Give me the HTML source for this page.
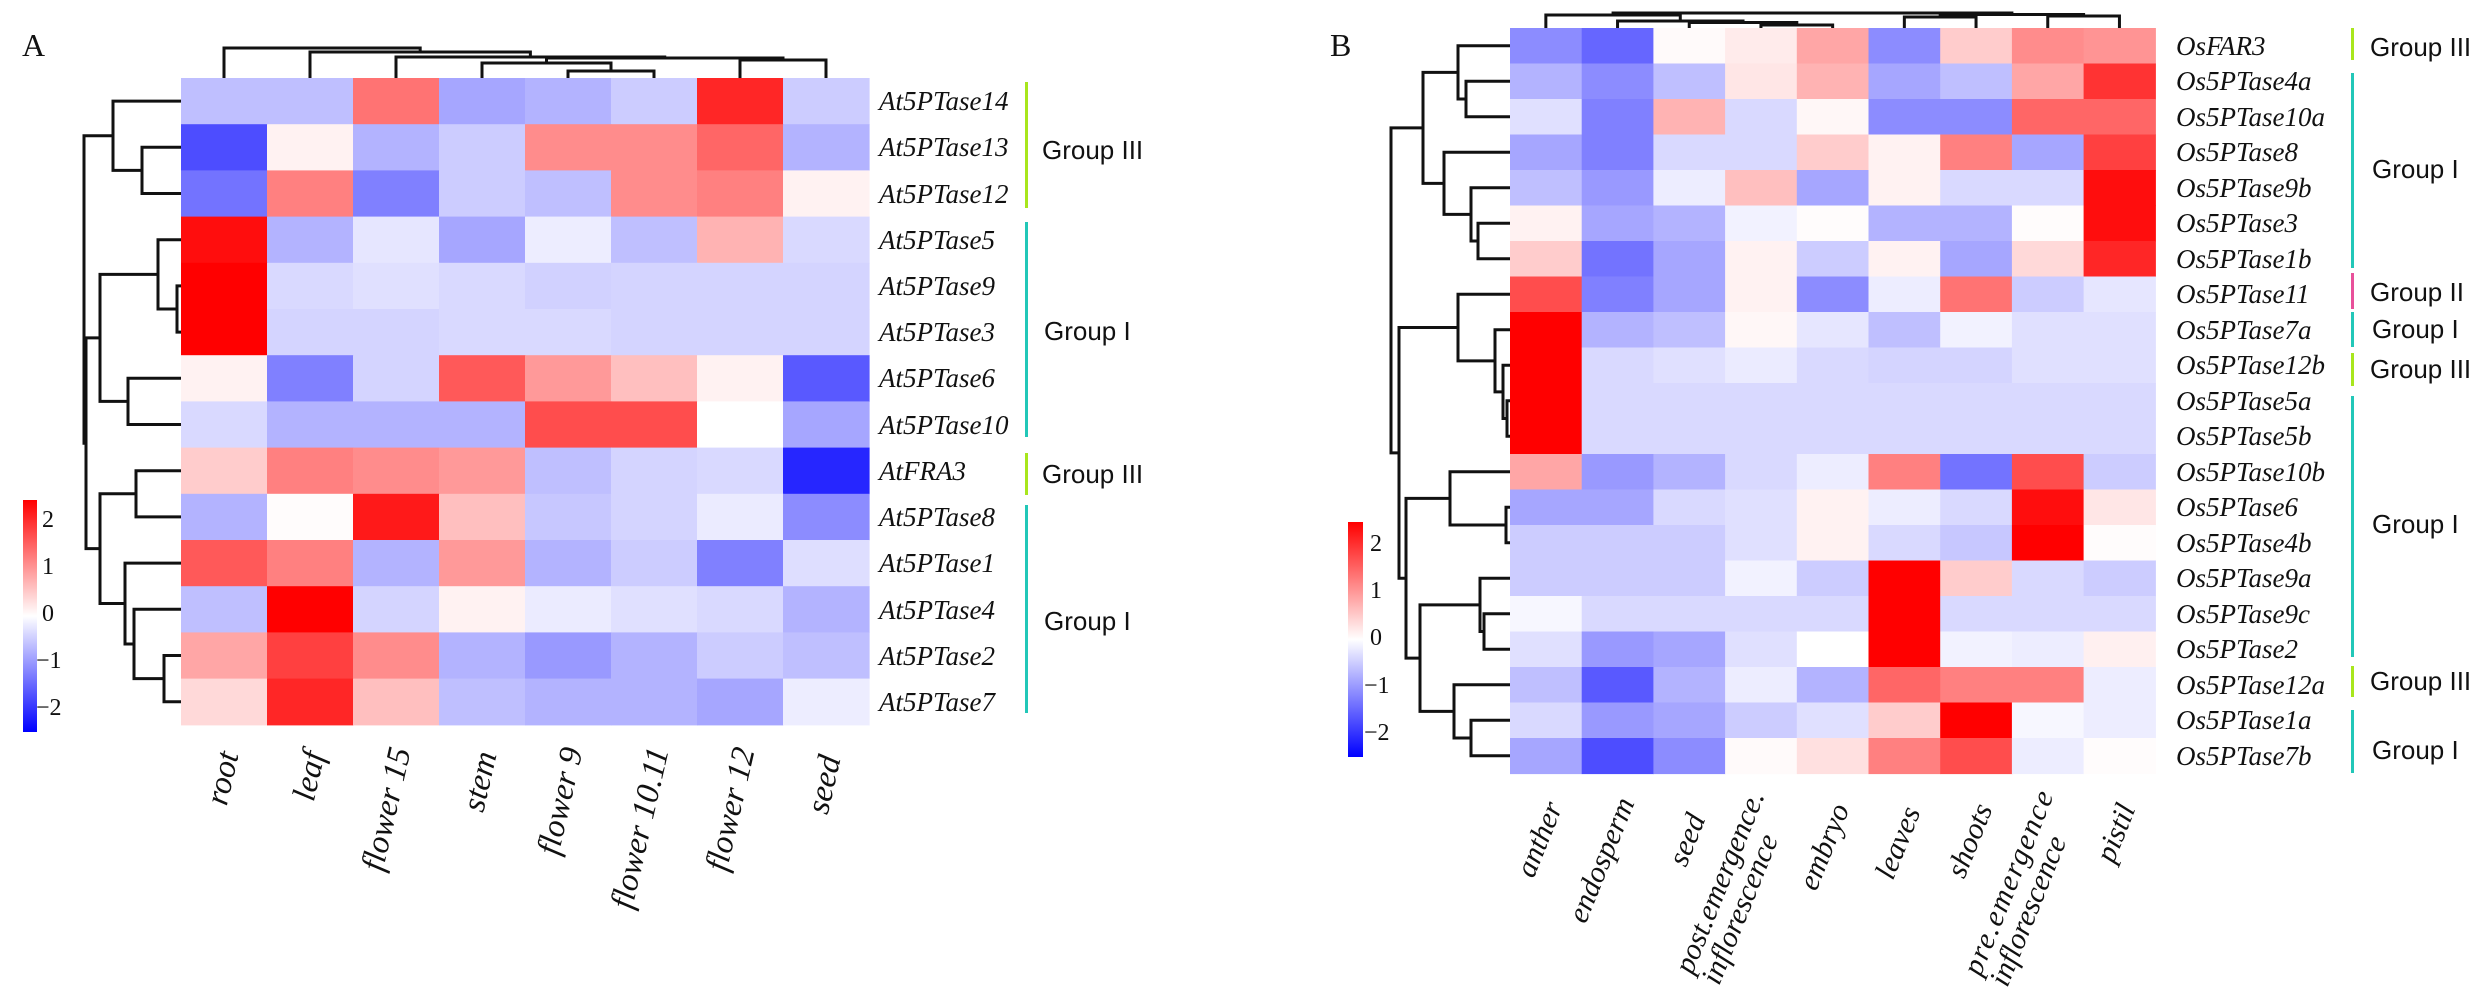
<!DOCTYPE html>
<html><head><meta charset="utf-8"><style>
html,body{margin:0;padding:0;background:#fff;}
svg{display:block;}
.rl{font-family:"Liberation Serif",serif;font-style:italic;font-size:27px;fill:#111;}
.xa{font-family:"Liberation Serif",serif;font-style:italic;font-size:33px;fill:#111;}
.xb{font-family:"Liberation Serif",serif;font-style:italic;font-size:30px;fill:#111;}
.gl{font-family:"Liberation Sans",sans-serif;font-size:26px;fill:#111;}
.tk{font-family:"Liberation Serif",serif;font-size:24px;fill:#111;}
.pl{font-family:"Liberation Serif",serif;font-size:32px;fill:#111;}
</style></head><body>
<svg id="s" width="2492" height="988" xmlns="http://www.w3.org/2000/svg">
<defs>
<linearGradient id="cb" x1="0" y1="0" x2="0" y2="1">
<stop offset="0" stop-color="#ff0000"/><stop offset="0.5" stop-color="#ffffff"/><stop offset="1" stop-color="#0000ff"/>
</linearGradient>
</defs>
<g id="cells"></g>
<g id="dend" fill="none" stroke="#111" stroke-width="3"></g>

<text class="pl" x="22" y="56">A</text>
<text class="pl" x="1330" y="56">B</text>

<rect x="23" y="500" width="14" height="232" fill="url(#cb)"/>
<text class="tk" x="42" y="527">2</text>
<text class="tk" x="42" y="574">1</text>
<text class="tk" x="42" y="621">0</text>
<text class="tk" x="36" y="668">−1</text>
<text class="tk" x="36" y="715">−2</text>
<rect x="1348" y="522" width="15" height="235" fill="url(#cb)"/>
<text class="tk" x="1370" y="551">2</text>
<text class="tk" x="1370" y="598">1</text>
<text class="tk" x="1370" y="645">0</text>
<text class="tk" x="1364" y="693">−1</text>
<text class="tk" x="1364" y="740">−2</text>

<g class="rl" dominant-baseline="central">
<text x="879" y="101">At5PTase14</text>
<text x="879" y="147">At5PTase13</text>
<text x="879" y="194">At5PTase12</text>
<text x="879" y="240">At5PTase5</text>
<text x="879" y="286">At5PTase9</text>
<text x="879" y="332">At5PTase3</text>
<text x="879" y="378">At5PTase6</text>
<text x="879" y="425">At5PTase10</text>
<text x="879" y="471">AtFRA3</text>
<text x="879" y="517">At5PTase8</text>
<text x="879" y="563">At5PTase1</text>
<text x="879" y="610">At5PTase4</text>
<text x="879" y="656">At5PTase2</text>
<text x="879" y="702">At5PTase7</text>
</g>
<rect x="1025" y="82" width="3" height="126" fill="#a8e61d"/>
<rect x="1025" y="222" width="3" height="215" fill="#22c7b8"/>
<rect x="1025" y="453" width="3" height="42" fill="#a8e61d"/>
<rect x="1025" y="505" width="3" height="208" fill="#22c7b8"/>
<g class="gl" dominant-baseline="central">
<text x="1042" y="150">Group III</text>
<text x="1044" y="331">Group I</text>
<text x="1042" y="474">Group III</text>
<text x="1044" y="621">Group I</text>
</g>
<g class="xa" text-anchor="end" dominant-baseline="central">
<text transform="translate(229,752) rotate(-77)">root</text>
<text transform="translate(315,752) rotate(-77)">leaf</text>
<text transform="translate(401,748) rotate(-77)">flower 15</text>
<text transform="translate(487,752) rotate(-77)">stem</text>
<text transform="translate(573,748) rotate(-77)">flower 9</text>
<text transform="translate(659,748) rotate(-77)">flower 10.11</text>
<text transform="translate(745,748) rotate(-77)">flower 12</text>
<text transform="translate(831,756) rotate(-77)">seed</text>
</g>

<g class="rl" dominant-baseline="central">
<text x="2176" y="46">OsFAR3</text>
<text x="2176" y="81">Os5PTase4a</text>
<text x="2176" y="117">Os5PTase10a</text>
<text x="2176" y="152">Os5PTase8</text>
<text x="2176" y="188">Os5PTase9b</text>
<text x="2176" y="223">Os5PTase3</text>
<text x="2176" y="259">Os5PTase1b</text>
<text x="2176" y="294">Os5PTase11</text>
<text x="2176" y="330">Os5PTase7a</text>
<text x="2176" y="365">Os5PTase12b</text>
<text x="2176" y="401">Os5PTase5a</text>
<text x="2176" y="436">Os5PTase5b</text>
<text x="2176" y="472">Os5PTase10b</text>
<text x="2176" y="507">Os5PTase6</text>
<text x="2176" y="543">Os5PTase4b</text>
<text x="2176" y="578">Os5PTase9a</text>
<text x="2176" y="614">Os5PTase9c</text>
<text x="2176" y="649">Os5PTase2</text>
<text x="2176" y="685">Os5PTase12a</text>
<text x="2176" y="720">Os5PTase1a</text>
<text x="2176" y="756">Os5PTase7b</text>
</g>
<rect x="2351" y="28" width="3" height="32" fill="#a8e61d"/>
<rect x="2351" y="73" width="3" height="195" fill="#22c7b8"/>
<rect x="2351" y="273" width="3" height="36" fill="#e8509a"/>
<rect x="2351" y="312" width="3" height="35" fill="#22c7b8"/>
<rect x="2351" y="353" width="3" height="33" fill="#a8e61d"/>
<rect x="2351" y="396" width="3" height="261" fill="#22c7b8"/>
<rect x="2351" y="666" width="3" height="31" fill="#a8e61d"/>
<rect x="2351" y="710" width="3" height="63" fill="#22c7b8"/>
<g class="gl" dominant-baseline="central">
<text x="2370" y="47">Group III</text>
<text x="2372" y="169">Group I</text>
<text x="2370" y="292">Group II</text>
<text x="2372" y="329">Group I</text>
<text x="2370" y="369">Group III</text>
<text x="2372" y="524">Group I</text>
<text x="2370" y="681">Group III</text>
<text x="2372" y="750">Group I</text>
</g>
<g class="xb" text-anchor="end" dominant-baseline="central">
<text transform="translate(1554,803) rotate(-68)">anther</text>
<text transform="translate(1626,799) rotate(-68)">endosperm</text>
<text transform="translate(1697,815) rotate(-68)">seed</text>
<text transform="translate(1841,805) rotate(-68)">embryo</text>
<text transform="translate(1912,808) rotate(-68)">leaves</text>
<text transform="translate(1984,805) rotate(-68)">shoots</text>
<text transform="translate(2127,805) rotate(-68)">pistil</text>
</g>
<g class="xb" dominant-baseline="central">
<g transform="translate(1756,792) rotate(-68)"><text x="-194" y="0" textLength="194">post.emergence.</text><text x="-194" y="29">inflorescence</text></g>
<g transform="translate(2045,792) rotate(-68)"><text x="-196" y="0" textLength="196">pre.emergence</text><text x="-196" y="29">inflorescence</text></g>
</g>
</svg>
<script>
(function(){
var NS="http://www.w3.org/2000/svg";
function col(v){var t=Math.min(1,Math.abs(v));var c=Math.round(255*(1-t));return v>=0?"rgb(255,"+c+","+c+")":"rgb("+c+","+c+",255)";}
var cells=document.getElementById("cells");
function heat(data,x0,y0,cw,rh){for(var i=0;i<data.length;i++)for(var j=0;j<data[i].length;j++){var r=document.createElementNS(NS,"rect");r.setAttribute("x",(x0+j*cw).toFixed(2));r.setAttribute("y",(y0+i*rh).toFixed(2));r.setAttribute("width",(cw+0.6).toFixed(2));r.setAttribute("height",(rh+0.6).toFixed(2));r.setAttribute("fill",col(data[i][j]));cells.appendChild(r);}}
var A=[[-0.25,-0.25,0.55,-0.35,-0.3,-0.2,0.85,-0.2],[-0.7,0.05,-0.3,-0.2,0.45,0.45,0.6,-0.3],[-0.55,0.5,-0.5,-0.2,-0.25,0.45,0.5,0.05],[0.95,-0.3,-0.1,-0.35,-0.07,-0.25,0.3,-0.15],[1,-0.15,-0.12,-0.15,-0.18,-0.17,-0.17,-0.17],[1,-0.17,-0.17,-0.15,-0.15,-0.17,-0.17,-0.17],[0.05,-0.5,-0.17,0.65,0.4,0.25,0.05,-0.65],[-0.15,-0.3,-0.3,-0.3,0.7,0.7,0,-0.35],[0.2,0.5,0.45,0.4,-0.25,-0.17,-0.15,-0.85],[-0.3,0.01,0.9,0.25,-0.22,-0.17,-0.08,-0.45],[0.65,0.5,-0.3,0.4,-0.3,-0.2,-0.5,-0.13],[-0.25,1,-0.17,0.05,-0.08,-0.12,-0.15,-0.3],[0.35,0.75,0.45,-0.3,-0.4,-0.3,-0.2,-0.25],[0.15,0.85,0.25,-0.25,-0.3,-0.3,-0.35,-0.07]];
var B=[[-0.45,-0.6,0.02,0.08,0.35,-0.45,0.2,0.45,0.42],[-0.3,-0.45,-0.25,0.1,0.3,-0.35,-0.25,0.35,0.8],[-0.12,-0.5,0.3,-0.15,0.03,-0.45,-0.45,0.6,0.6],[-0.35,-0.5,-0.15,-0.15,0.2,0.05,0.5,-0.35,0.75],[-0.25,-0.4,-0.07,0.25,-0.35,0.05,-0.15,-0.15,0.95],[0.05,-0.35,-0.3,-0.05,0.01,-0.3,-0.3,0.01,0.95],[0.2,-0.55,-0.35,0.05,-0.2,0.05,-0.35,0.15,0.85],[0.7,-0.5,-0.35,0.05,-0.45,-0.07,0.55,-0.2,-0.1],[1,-0.3,-0.25,0.03,-0.1,-0.25,-0.05,-0.12,-0.12],[1,-0.15,-0.12,-0.08,-0.15,-0.17,-0.17,-0.12,-0.12],[1,-0.15,-0.15,-0.15,-0.15,-0.15,-0.15,-0.15,-0.15],[1,-0.15,-0.15,-0.15,-0.15,-0.15,-0.15,-0.15,-0.15],[0.35,-0.4,-0.3,-0.15,-0.07,0.5,-0.55,0.7,-0.2],[-0.35,-0.35,-0.15,-0.12,0.05,-0.07,-0.15,0.95,0.1],[-0.2,-0.2,-0.2,-0.12,0.05,-0.15,-0.22,1,0.01],[-0.2,-0.2,-0.2,-0.05,-0.2,1,0.2,-0.15,-0.2],[-0.03,-0.15,-0.15,-0.15,-0.15,1,-0.15,-0.15,-0.15],[-0.12,-0.4,-0.35,-0.12,0,1,-0.05,-0.07,0.06],[-0.25,-0.65,-0.3,-0.07,-0.3,0.6,0.5,0.5,-0.07],[-0.15,-0.4,-0.35,-0.2,-0.12,0.2,1,-0.03,-0.07],[-0.35,-0.7,-0.45,0.02,0.12,0.5,0.7,-0.07,0.01]];
heat(A,181,78,86,46.2);
heat(B,1510,28,71.7,35.5);
var dend=document.getElementById("dend");
function tree(n,pos,edge,merges,horiz){
 var P=pos.slice(),H=[];for(var i=0;i<n;i++)H.push(edge);
 var d="";
 merges.forEach(function(m){var a=m[0],b=m[1],h=m[2];
  if(horiz){d+="M"+H[a]+","+P[a]+"H"+h+"V"+P[b]+"H"+H[b];}
  else{d+="M"+P[a]+","+H[a]+"V"+h+"H"+P[b]+"V"+H[b];}
  P.push((P[a]+P[b])/2);H.push(h);});
 var p=document.createElementNS(NS,"path");p.setAttribute("d",d);dend.appendChild(p);}
var ay=[],ax=[],by=[],bx=[];
for(var i=0;i<14;i++)ay.push(78+46.2*(i+0.5));
for(var i=0;i<8;i++)ax.push(181+86*(i+0.5));
for(var i=0;i<21;i++)by.push(28+35.5*(i+0.5));
for(var i=0;i<9;i++)bx.push(1510+71.7*(i+0.5));
tree(14,ay,181,[[1,2,142],[0,14,113],[4,5,177],[3,16,158],[6,7,128],[17,18,100],[8,9,136],[12,13,164],[11,21,134],[10,22,125],[20,23,100],[19,24,86],[15,25,84]],true);
tree(8,ax,78,[[4,5,71],[3,8,63],[6,7,60],[9,10,58],[2,11,57],[1,12,52],[0,13,48]],false);
tree(21,by,1510,[[1,2,1466],[0,21,1458],[5,6,1478],[4,23,1471],[3,24,1444],[22,25,1423],[10,11,1507],[9,27,1503],[8,28,1495],[7,29,1458],[13,14,1506],[12,31,1450],[16,17,1484],[15,33,1480],[19,20,1471],[18,35,1454],[34,36,1420],[32,37,1406],[30,38,1399],[26,39,1391]],true);
tree(9,bx,28,[[3,4,25],[2,9,22.5],[1,10,21],[0,11,15],[5,6,17],[7,8,16],[13,14,14.5],[12,15,13]],false);
})();
</script>
</body></html>
